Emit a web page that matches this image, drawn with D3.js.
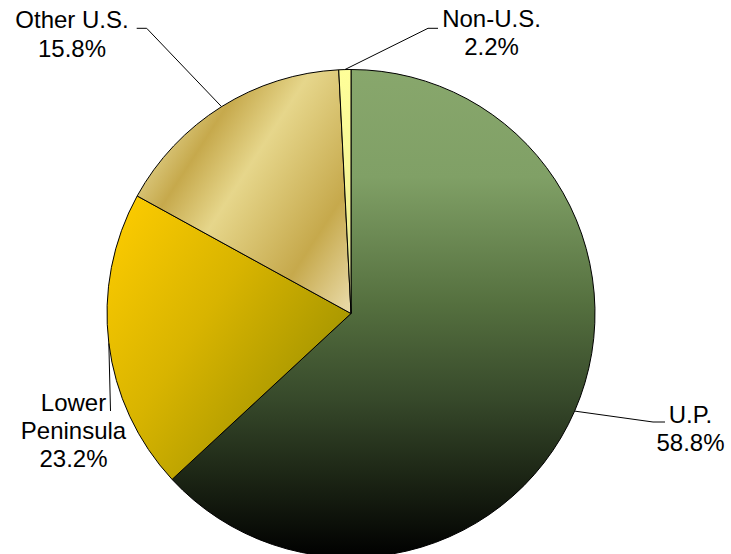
<!DOCTYPE html>
<html>
<head>
<meta charset="utf-8">
<script src="https://cdn.jsdelivr.net/npm/d3@7"></script>
<style>
  body { margin: 0; background: #fff; }
  text { font-family: "Liberation Sans", Arial, sans-serif; font-size: 24px; fill: #000; }
</style>
</head>
<body>
<div class="chart"></div>
<script>
// === Data ===
const categories = ["U.P.", "Lower Peninsula", "Other U.S.", "Non-U.S."];
const shares = [63.1, 19.9, 16.2, 0.8];          // slice sizes as drawn
const pctLabels = ["58.8%", "23.2%", "15.8%", "2.2%"];
const nameLines = [["U.P."], ["Lower", "Peninsula"], ["Other U.S."], ["Non-U.S."]];

// === Layout ===
const width = 731, height = 554;
const cx = 351, cy = 313.5, radius = 244;

// label anchor (center x, first baseline) and leader elbow, relative to page
const labelLayout = [
  {x: 690.5, y: 423, elbow: [653, 422], end: [665, 422]},
  {x: 73.5, y: 410.7, elbow: [110.5, 411], end: null},
  {x: 72, y: 28.3, elbow: [146.7, 28.3], end: [136.7, 28.3]},
  {x: 491.5, y: 27, elbow: [428, 28.3], end: [438, 28.3]}
];
const lineHeight = 28.2;

const svg = d3.select(".chart").append("svg")
    .attr("width", width)
    .attr("height", height);

// === Gradients ===
const defs = svg.append("defs");

function addGradient(id, coords, stops) {
  const g = defs.append("linearGradient")
      .attr("id", id)
      .attr("gradientUnits", "userSpaceOnUse")
      .attr("x1", coords[0]).attr("y1", coords[1])
      .attr("x2", coords[2]).attr("y2", coords[3]);
  stops.forEach(s => g.append("stop").attr("offset", s[0]).attr("stop-color", s[1]));
}

addGradient("g-up", [0, -radius, 0, radius], [
  [0, "#88a76c"], [0.22, "#80a066"], [0.48, "#55703f"],
  [0.68, "#36482a"], [0.84, "#1b2414"], [1, "#000000"]
]);
addGradient("g-lp", [-230, -110, -10, 40], [
  [0, "#fccb00"], [0.5, "#d8b400"], [1, "#a69600"]
]);
addGradient("g-other", [-203.9, -132.4, 0, 0], [
  [0, "#d6c172"], [0.107, "#c6a94c"], [0.32, "#e6d68b"],
  [0.71, "#c6a94c"], [0.96, "#e6d6a0"], [1, "#e8daa8"]
]);
addGradient("g-non", [0, -radius, 0, 0], [
  [0, "#ffff99"], [0.6, "#f2f296"], [1, "#d6dc9a"]
]);
const fills = ["url(#g-up)", "url(#g-lp)", "url(#g-other)", "url(#g-non)"];

// === Pie ===
const pie = d3.pie().sort(null).startAngle(0).endAngle(2 * Math.PI);
const arcs = pie(shares);

const arc = d3.arc().innerRadius(0).outerRadius(radius);
const edgeArc = d3.arc().innerRadius(radius).outerRadius(radius);

const g = svg.append("g")
    .attr("transform", `translate(${cx},${cy})`);

g.selectAll(".slice")
  .data(arcs)
  .join("path")
    .attr("class", "slice")
    .attr("d", arc)
    .attr("fill", (d, i) => fills[i])
    .attr("stroke", "#000")
    .attr("stroke-width", 1)
    .attr("stroke-linejoin", "round");

// === Leader lines ===
svg.selectAll(".leader")
  .data(arcs)
  .join("polyline")
    .attr("class", "leader")
    .attr("fill", "none")
    .attr("stroke", "#000")
    .attr("stroke-width", 1)
    .attr("points", (d, i) => {
      const p = edgeArc.centroid(d);
      const L = labelLayout[i];
      const pts = [[cx + p[0], cy + p[1]], L.elbow];
      if (L.end) pts.push(L.end);
      return pts.map(q => q.join(",")).join(" ");
    });

// === Labels ===
const labels = svg.selectAll(".label")
  .data(categories)
  .join("text")
    .attr("class", "label")
    .attr("text-anchor", "middle")
    .attr("x", (d, i) => labelLayout[i].x)
    .attr("y", (d, i) => labelLayout[i].y);

labels.each(function(d, i) {
  const t = d3.select(this);
  const lines = nameLines[i].concat([pctLabels[i]]);
  lines.forEach((s, k) => {
    t.append("tspan")
      .attr("x", labelLayout[i].x)
      .attr("dy", k === 0 ? 0 : lineHeight)
      .text(s);
  });
});
</script>
</body>
</html>
